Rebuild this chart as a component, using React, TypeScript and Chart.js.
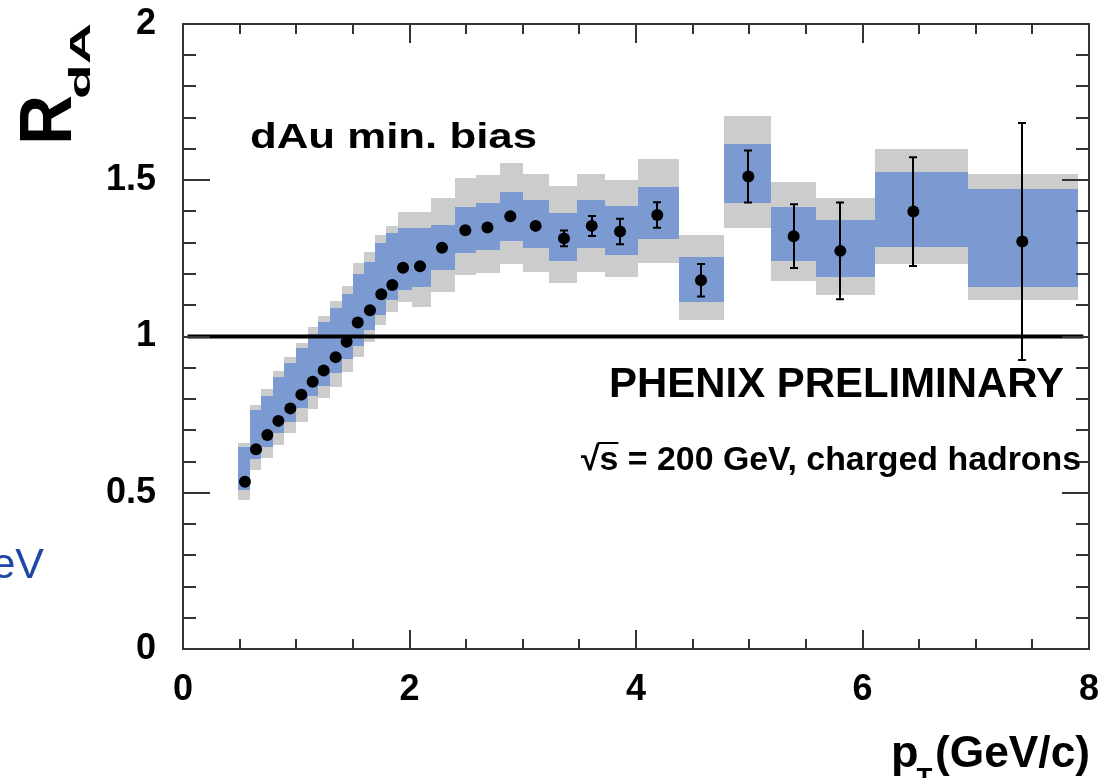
import React, { useEffect, useRef } from 'react';
import { Chart, registerables } from 'chart.js';

Chart.register(...registerables);

// ---------------- data ----------------
// bin edges of the systematic-error boxes (pT, GeV/c)
const binEdges = [
  0.49, 0.59, 0.69, 0.795, 0.895, 0.995, 1.1, 1.195, 1.3, 1.4, 1.5, 1.595, 1.695, 1.795, 1.9, 2.02,
  2.19, 2.4, 2.59, 2.795, 3.0, 3.235, 3.48, 3.73, 4.02, 4.38, 4.78, 5.19, 5.59, 6.11, 6.93, 7.9,
];
// outer (gray) band
const grayHigh = [
  0.658, 0.781, 0.831, 0.89, 0.934, 0.979, 1.03, 1.066, 1.115, 1.163, 1.235, 1.271, 1.325, 1.352, 1.4, 1.4,
  1.442, 1.506, 1.517, 1.556, 1.521, 1.482, 1.521, 1.501, 1.567, 1.326, 1.706, 1.495, 1.444, 1.599, 1.52,
];
const grayLow = [
  0.478, 0.573, 0.61, 0.653, 0.69, 0.728, 0.768, 0.802, 0.84, 0.886, 0.933, 0.982, 1.037, 1.079, 1.11, 1.095,
  1.143, 1.197, 1.202, 1.232, 1.207, 1.172, 1.207, 1.191, 1.236, 1.053, 1.346, 1.178, 1.133, 1.232, 1.117,
];
// inner (blue) band
const blueHigh = [
  0.645, 0.765, 0.811, 0.87, 0.915, 0.962, 1.008, 1.047, 1.091, 1.136, 1.2, 1.238, 1.299, 1.331, 1.347, 1.347,
  1.357, 1.415, 1.426, 1.461, 1.437, 1.396, 1.437, 1.418, 1.479, 1.255, 1.616, 1.415, 1.373, 1.525, 1.471,
];
const blueLow = [
  0.509, 0.608, 0.645, 0.69, 0.728, 0.77, 0.81, 0.843, 0.882, 0.927, 0.97, 1.021, 1.069, 1.117, 1.149, 1.159,
  1.213, 1.266, 1.277, 1.307, 1.282, 1.242, 1.282, 1.261, 1.311, 1.111, 1.426, 1.241, 1.191, 1.287, 1.157,
];
// data points
const pointX = [
  0.547, 0.645, 0.745, 0.842, 0.948, 1.045, 1.145, 1.242, 1.348, 1.445, 1.543, 1.651, 1.751, 1.848, 1.943, 2.093,
  2.287, 2.493, 2.688, 2.89, 3.114, 3.364, 3.609, 3.859, 4.188, 4.574, 4.992, 5.392, 5.804, 6.449, 7.411,
];
const pointY = [
  0.535, 0.639, 0.685, 0.73, 0.77, 0.814, 0.855, 0.891, 0.934, 0.983, 1.045, 1.084, 1.135, 1.165, 1.22, 1.225,
  1.284, 1.34, 1.349, 1.385, 1.354, 1.314, 1.354, 1.336, 1.389, 1.18, 1.512, 1.321, 1.274, 1.4, 1.304,
];
const pointErr = [
  0.005, 0.005, 0.005, 0.005, 0.005, 0.005, 0.005, 0.005, 0.005, 0.005, 0.005, 0.005, 0.005, 0.005, 0.006, 0.007,
  0.008, 0.01, 0.012, 0.015, 0.018, 0.025, 0.032, 0.041, 0.041, 0.052, 0.083, 0.102, 0.155, 0.174, 0.379,
];
const unityLineX = [0.04, 7.95];
const unityLineY = [1, 1];
const xTickStep = 2;
const yTickStep = 0.5;

const BLUE = '#7a9ad1';
const GRAY = '#cccccc';
const AXIS = '#333333';
const FONT = '"Liberation Sans", Arial, Helvetica, sans-serif';

function drawScaled(
  ctx: CanvasRenderingContext2D,
  text: string,
  font: string,
  x: number,
  y: number,
  opts: { align?: CanvasTextAlign; width?: number; color?: string } = {}
) {
  const { align = 'left', width, color = '#000' } = opts;
  ctx.save();
  ctx.font = font;
  ctx.fillStyle = color;
  ctx.textBaseline = 'alphabetic';
  const w = ctx.measureText(text).width;
  const sx = width ? width / w : 1;
  ctx.translate(x, y);
  ctx.scale(sx, 1);
  ctx.textAlign = align;
  ctx.fillText(text, 0, 0);
  ctx.restore();
  return sx;
}

const decorPlugin = {
  id: 'phenixDecor',
  beforeDatasetsDraw(chart: any) {
    const { ctx, scales } = chart;
    const xs = scales.x;
    const ys = scales.y;
    ctx.save();
    const passes: [number[], number[], string][] = [
      [grayLow, grayHigh, GRAY],
      [blueLow, blueHigh, BLUE],
    ];
    for (const [lo, hi, col] of passes) {
      ctx.fillStyle = col;
      for (let i = 0; i < lo.length; i++) {
        const x0 = Math.round(xs.getPixelForValue(binEdges[i]));
        const x1 = Math.round(xs.getPixelForValue(binEdges[i + 1]));
        const yt = Math.round(ys.getPixelForValue(hi[i]));
        const yb = Math.round(ys.getPixelForValue(lo[i]));
        ctx.fillRect(x0, yt, x1 - x0, yb - yt);
      }
    }
    ctx.restore();
  },
  afterDatasetsDraw(chart: any) {
    const { ctx, scales, chartArea } = chart;
    const xs = scales.x;
    const ys = scales.y;
    // error bars
    ctx.save();
    ctx.strokeStyle = '#000';
    ctx.lineWidth = 2;
    const r = 6;
    for (let i = 0; i < pointX.length; i++) {
      const px = Math.round(xs.getPixelForValue(pointX[i]));
      const yc = ys.getPixelForValue(pointY[i]);
      const yt = ys.getPixelForValue(pointY[i] + pointErr[i]);
      const yb = ys.getPixelForValue(pointY[i] - pointErr[i]);
      if (yc - yt <= r) continue;
      ctx.beginPath();
      ctx.moveTo(px, yt);
      ctx.lineTo(px, yb);
      ctx.moveTo(px - 4, yt);
      ctx.lineTo(px + 4, yt);
      ctx.moveTo(px - 4, yb);
      ctx.lineTo(px + 4, yb);
      ctx.stroke();
    }
    ctx.restore();

    // frame and ticks
    const { left, right, top, bottom } = chartArea;
    ctx.save();
    ctx.strokeStyle = AXIS;
    ctx.lineWidth = 2;
    ctx.strokeRect(left, top, right - left, bottom - top);
    ctx.beginPath();
    for (let k = 0; k <= 16; k++) {
      const v = k * 0.5;
      const px = Math.round(xs.getPixelForValue(v));
      const len = k % 4 === 0 ? 19 : 10;
      ctx.moveTo(px, bottom);
      ctx.lineTo(px, bottom - len);
      ctx.moveTo(px, top);
      ctx.lineTo(px, top + len);
    }
    for (let k = 0; k <= 20; k++) {
      const v = k * 0.1;
      const py = Math.round(ys.getPixelForValue(v));
      const len = k % 5 === 0 ? 27 : 13;
      ctx.moveTo(left, py);
      ctx.lineTo(left + len, py);
      ctx.moveTo(right, py);
      ctx.lineTo(right - len, py);
    }
    ctx.stroke();
    ctx.restore();
  },
  afterDraw(chart: any) {
    const { ctx } = chart;
    // in-plot labels
    drawScaled(ctx, 'dAu min. bias', `bold 35px ${FONT}`, 250, 148, { width: 287 });
    drawScaled(ctx, 'PHENIX PRELIMINARY', `bold 43px ${FONT}`, 609, 397, { width: 455 });
    const sFont = `bold 34px ${FONT}`;
    const txt = '\u221As = 200 GeV, charged hadrons';
    const sx = drawScaled(ctx, txt, sFont, 581, 470, { width: 500 });
    ctx.save();
    ctx.font = sFont;
    const wRad = ctx.measureText('\u221A').width * sx;
    const wRadS = ctx.measureText('\u221As').width * sx;
    ctx.strokeStyle = '#000';
    ctx.lineWidth = 2;
    ctx.beginPath();
    ctx.moveTo(581 + wRad - 2, 443);
    ctx.lineTo(581 + wRadS, 443);
    ctx.stroke();
    ctx.restore();

    // y axis title R_dA (rotated)
    ctx.save();
    ctx.translate(71, 145);
    ctx.rotate(-Math.PI / 2);
    drawScaled(ctx, 'R', `bold 75px ${FONT}`, 0, 0, { width: 50 });
    drawScaled(ctx, 'dA', `bold 30px ${FONT}`, 46, 19, { width: 76 });
    ctx.restore();

    // x axis title p_T (GeV/c)
    drawScaled(ctx, 'p', `bold 45px ${FONT}`, 891, 767);
    drawScaled(ctx, 'T', `bold 26px ${FONT}`, 916.5, 786);
    drawScaled(ctx, '(GeV/c)', `bold 45px ${FONT}`, 1090, 767, { align: 'right', width: 155 });

    // clipped blue text at the left edge
    drawScaled(ctx, 'eV', `43px ${FONT}`, 44, 578, { align: 'right', color: '#1f48a6' });
  },
};

export default function App() {
  const canvasRef = useRef<HTMLCanvasElement | null>(null);

  useEffect(() => {
    const canvas = canvasRef.current;
    if (!canvas) return;
    Chart.defaults.font.family = FONT;
    const points = pointX.map((x, i) => ({ x, y: pointY[i] }));
    const unity = unityLineX.map((x, i) => ({ x, y: unityLineY[i] }));
    const chart = new Chart(canvas, {
      type: 'scatter',
      data: {
        datasets: [
          {
            label: 'RdA',
            data: points,
            pointRadius: 6,
            pointHoverRadius: 6,
            pointBackgroundColor: '#000',
            pointBorderColor: '#000',
            pointBorderWidth: 0,
            showLine: false,
          },
          {
            label: 'unity',
            type: 'line',
            data: unity,
            borderColor: '#000',
            borderWidth: 4,
            pointRadius: 0,
            fill: false,
          } as any,
        ],
      },
      plugins: [decorPlugin],
      options: {
        animation: false,
        responsive: false,
        devicePixelRatio: 1,
        events: [],
        layout: { padding: { left: 0, right: 21, top: 24, bottom: 0 } },
        plugins: {
          legend: { display: false },
          tooltip: { enabled: false },
          title: { display: false },
        },
        scales: {
          x: {
            type: 'linear',
            min: 0,
            max: 8,
            grid: { display: false, drawTicks: false },
            border: { display: false },
            ticks: {
              stepSize: xTickStep,
              autoSkip: false,
              maxRotation: 0,
              minRotation: 0,
              padding: 19,
              color: '#000',
              font: { family: FONT, size: 36, weight: 'bold' },
              callback: (v: any) => String(Number(Number(v).toFixed(1))),
            },
            afterFit: (scale: any) => {
              scale.height = 129;
              scale.paddingLeft = 0;
              scale.paddingRight = 0;
              scale.paddingTop = 0;
              scale.paddingBottom = 0;
            },
          },
          y: {
            type: 'linear',
            min: 0,
            max: 2,
            grid: { display: false, drawTicks: false },
            border: { display: false },
            ticks: {
              stepSize: yTickStep,
              autoSkip: false,
              padding: 27,
              color: '#000',
              font: { family: FONT, size: 36, weight: 'bold' },
              callback: (v: any) => String(Number(Number(v).toFixed(1))),
            },
            afterFit: (scale: any) => {
              scale.width = 183;
              scale.paddingLeft = 0;
              scale.paddingRight = 0;
              scale.paddingTop = 0;
              scale.paddingBottom = 0;
            },
          },
        },
      } as any,
    });
    return () => chart.destroy();
  }, []);

  return (
    <div
      style={{
        position: 'fixed',
        left: 0,
        top: 0,
        width: 1110,
        height: 778,
        background: '#ffffff',
        overflow: 'hidden',
      }}
    >
      <canvas ref={canvasRef} width={1110} height={778} style={{ width: 1110, height: 778, display: 'block' }} />
    </div>
  );
}
